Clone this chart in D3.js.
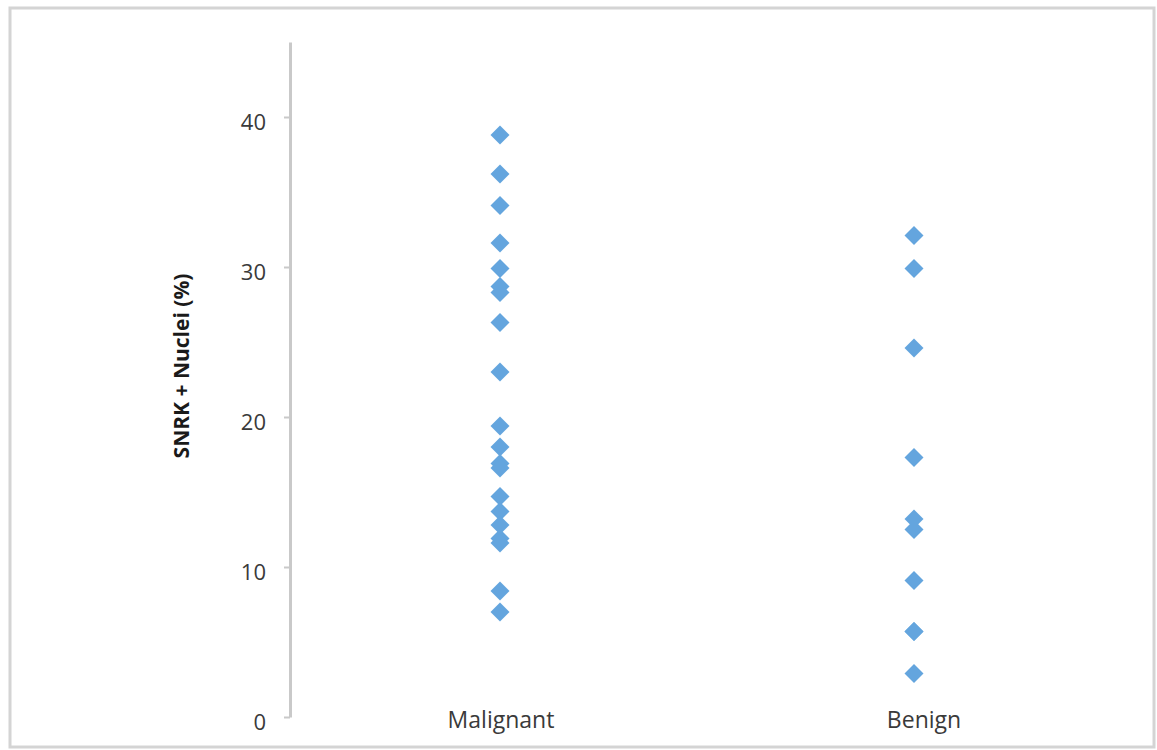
<!DOCTYPE html>
<html><head><meta charset="utf-8">
<script src="https://cdn.jsdelivr.net/npm/d3@7"></script>
<style>html,body{margin:0;padding:0;background:#fff;}svg{display:block;}</style>
</head><body>
<script>
const categories = ["Malignant", "Benign"];
const malignantValues = [38.8, 36.2, 34.1, 31.6, 29.9, 28.7, 28.3, 26.3, 23.0, 19.4, 18.0, 16.9, 16.6, 14.7, 13.7, 12.8, 11.9, 11.6, 8.4, 7.0];
const benignValues = [32.1, 29.9, 24.6, 17.3, 13.2, 12.5, 9.1, 5.7, 5.7, 2.9];
const yTicks = [0, 10, 20, 30, 40];
const yTitle = "SNRK + Nuclei (%)";

const W = 1157, H = 750;
const svg = d3.select("body").append("svg").attr("width", W).attr("height", H);

// outer frame
svg.append("rect").attr("x", 10).attr("y", 8).attr("width", 1144).attr("height", 739)
  .attr("fill", "#fff").attr("stroke", "#d4d4d4").attr("stroke-width", 3);

const y = d3.scaleLinear().domain([0, 45]).range([717, 42]);
const x = d3.scalePoint().domain(categories).range([500, 914]);

const font = "'Open Sans', sans-serif";

const yAxis = svg.append("g").attr("transform", "translate(290,0)")
  .call(d3.axisLeft(y).tickValues(yTicks).tickSize(6).tickPadding(18).tickSizeOuter(0));
yAxis.select(".domain").attr("stroke", "#c9c9c9").attr("stroke-width", 3);
yAxis.selectAll(".tick line").attr("stroke", "#c9c9c9").attr("stroke-width", 2);
yAxis.selectAll(".tick text").attr("fill", "#3a3a3a").attr("dy", "0.55em")
  .style("font-size", "22px").style("font-family", font);

// category labels
const labelOffset = {"Malignant": 1, "Benign": 10};
svg.append("g").selectAll("text").data(categories).join("text")
  .attr("x", d => x(d) + labelOffset[d]).attr("y", 728)
  .attr("text-anchor", "middle").attr("fill", "#3a3a3a")
  .style("font-size", "23px").style("font-family", font)
  .text(d => d);

// y title
svg.append("text")
  .attr("transform", "translate(189,366) rotate(-90)")
  .attr("text-anchor", "middle").attr("fill", "#1a1a1a")
  .style("font-size", "21px").style("font-weight", "bold").style("font-family", font)
  .text(yTitle);

const points = [];
malignantValues.forEach(v => points.push({c: "Malignant", v}));
benignValues.forEach(v => points.push({c: "Benign", v}));

const diamond = d3.symbol().type(d3.symbolSquare).size(180);
svg.append("g").selectAll("path").data(points).join("path")
  .attr("d", diamond)
  .attr("transform", d => `translate(${x(d.c)},${y(d.v)}) rotate(45)`)
  .attr("fill", "#64a5de");
</script>
</body></html>
